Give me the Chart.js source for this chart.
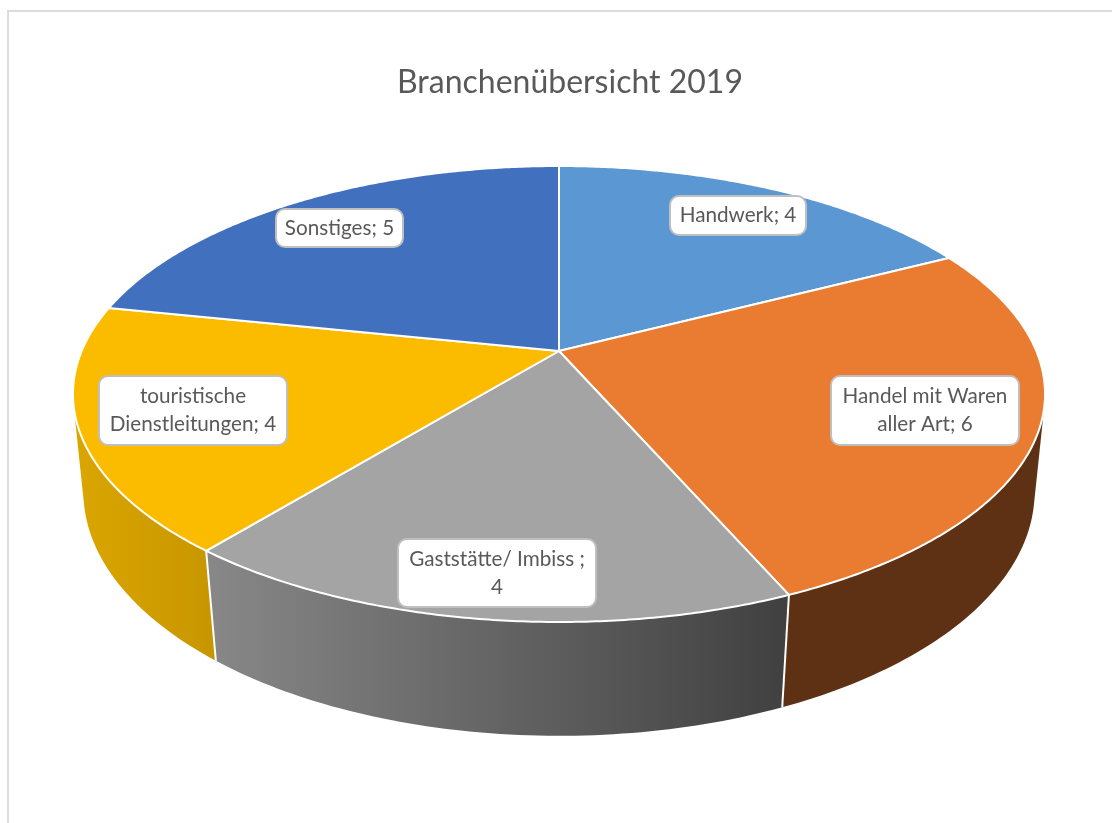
<!DOCTYPE html>
<html lang="de">
<head>
<meta charset="utf-8">
<title>Branchenübersicht 2019</title>
<script src="https://cdn.jsdelivr.net/npm/chart.js@4"></script>
<style>
    html, body { margin: 0; background: #fff; overflow: hidden; }
    #rahmen { position: absolute; left: 7px; top: 10px; width: 1105px; height: 813px;
              box-sizing: border-box; border-left: 2px solid #dcdcdc; border-top: 2px solid #dcdcdc; }
    #branchen { position: absolute; left: 0; top: 0; }
</style>
</head>
<body>
<div id="rahmen"></div>
<canvas id="branchen" width="1112" height="823"></canvas>
<script>
const titel = 'Branchenübersicht 2019';
const branchen = ['Handwerk', 'Handel mit Waren aller Art', 'Gaststätte/ Imbiss ', 'touristische Dienstleitungen', 'Sonstiges'];
const anzahl = [4, 6, 4, 4, 5];
const farben = ['#5b98d3', '#e97c30', '#a4a4a4', '#fbbc00', '#4170bf'];

/*Farben der Seitenwand: links und rechts, als Verlauf von x0 bis x1*/
const waende = [
    { von: '#3a6a96', bis: '#3a6a96', x0: 559, x1: 949 },
    { von: '#5f3114', bis: '#5f3114', x0: 782, x1: 1045 },
    { von: '#888888', bis: '#404040', x0: 205, x1: 789 },
    { von: '#dba600', bis: '#c79600', x0: 73, x1: 216 },
    { von: '#2d4d85', bis: '#2d4d85', x0: 108, x1: 559 }
];

/*Position der Beschriftungen (links, oben, Breite, Höhe)*/
const labelBoxen = [
    [669, 195, 138, 41],
    [830, 375, 190, 71],
    [397, 538, 200, 70],
    [98, 375, 190, 71],
    [275, 208, 129, 40]
];

/*Perspektive: Kreis (u, v) auf die Ellipse abbilden, oben die Deckfläche, unten der Boden*/
const deckel = { x: 559, y: 351, a: 477.3, b: 219.9, k: -0.1886 };
const boden = { x: 559, y: 448, a: 467.8, b: 236, k: -0.18 };

function projiziere(p, winkel) {
    const u = Math.cos(winkel), v = Math.sin(winkel);
    const w = 1 + p.k * v;
    return [p.x + p.a * u / w, p.y + p.b * v / w];
}

function zeilenUmbruch(ctx, text, breite) {
    const zeilen = [];
    let zeile = '';
    text.split(' ').forEach(function (wort) {
        const neu = zeile ? zeile + ' ' + wort : wort;
        if (zeile && ctx.measureText(neu).width > breite) {
            zeilen.push(zeile);
            zeile = wort;
        } else {
            zeile = neu;
        }
    });
    zeilen.push(zeile);
    return zeilen;
}

function zeichneWand(ctx, arc, wand) {
    const verlauf = ctx.createLinearGradient(wand.x0, 0, wand.x1, 0);
    verlauf.addColorStop(0, wand.von);
    verlauf.addColorStop(1, wand.bis);
    ctx.fillStyle = verlauf;
    const schritte = Math.ceil((arc.endAngle - arc.startAngle) * 60);
    const schritt = (arc.endAngle - arc.startAngle) / schritte;
    /*alle Vierecke in einem Pfad, gleich orientiert, damit keine Streifen entstehen*/
    ctx.beginPath();
    for (let i = 0; i < schritte; i++) {
        const t0 = arc.startAngle + i * schritt, t1 = t0 + schritt;
        const a = projiziere(deckel, t0), b = projiziere(deckel, t1);
        const c = projiziere(boden, t1), d = projiziere(boden, t0);
        const flaeche = (b[0] - a[0]) * (c[1] - a[1]) - (b[1] - a[1]) * (c[0] - a[0]);
        const ecken = flaeche > 0 ? [a, b, c, d] : [d, c, b, a];
        ctx.moveTo(...ecken[0]);
        ctx.lineTo(...ecken[1]);
        ctx.lineTo(...ecken[2]);
        ctx.lineTo(...ecken[3]);
        ctx.closePath();
    }
    ctx.fill();
}

function zeichneKante(ctx, winkel) {
    ctx.strokeStyle = '#ffffff';
    ctx.lineWidth = 2;
    ctx.beginPath();
    ctx.moveTo(...projiziere(deckel, winkel));
    ctx.lineTo(...projiziere(boden, winkel));
    ctx.stroke();
}

function zeichneDeckel(ctx, arc, farbe) {
    ctx.beginPath();
    ctx.moveTo(deckel.x, deckel.y);
    const schritte = Math.ceil((arc.endAngle - arc.startAngle) * 120);
    for (let i = 0; i <= schritte; i++) {
        const t = arc.startAngle + (arc.endAngle - arc.startAngle) * i / schritte;
        ctx.lineTo(...projiziere(deckel, t));
    }
    ctx.closePath();
    ctx.fillStyle = farbe;
    ctx.fill();
    ctx.strokeStyle = '#ffffff';
    ctx.lineWidth = 2;
    ctx.lineJoin = 'round';
    ctx.stroke();
}

function zeichneLabel(ctx, text, box) {
    const [x, y, w, h] = box;
    ctx.beginPath();
    ctx.roundRect(x + 1, y + 1, w - 2, h - 2, 9);
    ctx.fillStyle = '#ffffff';
    ctx.fill();
    ctx.strokeStyle = '#bfbfbf';
    ctx.lineWidth = 2;
    ctx.stroke();

    ctx.font = '20.7px Lato';
    ctx.fillStyle = '#595959';
    ctx.textAlign = 'center';
    ctx.textBaseline = 'middle';
    const zeilen = zeilenUmbruch(ctx, text, w - 16);
    const mitte = y + h / 2;
    zeilen.forEach(function (zeile, i) {
        ctx.fillText(zeile, x + w / 2, mitte + (i - (zeilen.length - 1) / 2) * 28);
    });
}

/*Der Chart rechnet die Winkel aus, das Plugin zeichnet sie in 3D statt der flachen Torte*/
const torte3d = {
    id: 'torte3d',
    beforeDatasetDraw(chart, args) {
        const ctx = chart.ctx;
        const bogen = chart.getDatasetMeta(args.index).data;
        ctx.save();
        bogen.forEach(function (arc, i) { zeichneWand(ctx, arc, waende[i]); });
        bogen.forEach(function (arc) { zeichneKante(ctx, arc.startAngle); });
        bogen.forEach(function (arc, i) { zeichneDeckel(ctx, arc, farben[i]); });
        bogen.forEach(function (arc, i) {
            zeichneLabel(ctx, branchen[i] + '; ' + anzahl[i], labelBoxen[i]);
        });
        ctx.restore();
        return false;
    }
};

const grafico_branchen = new Chart(document.getElementById('branchen'), {
    type: 'pie',
    data: {
        labels: branchen,
        datasets: [{
            label: titel,
            data: anzahl,
            backgroundColor: farben
        }]
    },
    options: {
        responsive: false,
        animation: false,
        layout: { padding: { left: 28 } },
        plugins: {
            legend: { display: false },
            tooltip: { enabled: false },
            title: {
                display: true,
                fullSize: false,
                text: titel,
                color: '#595959',
                font: { family: 'Lato', size: 32, weight: 'normal' },
                padding: { top: 63, bottom: 20 }
            }
        }
    },
    plugins: [torte3d]
});
</script>
</body>
</html>
